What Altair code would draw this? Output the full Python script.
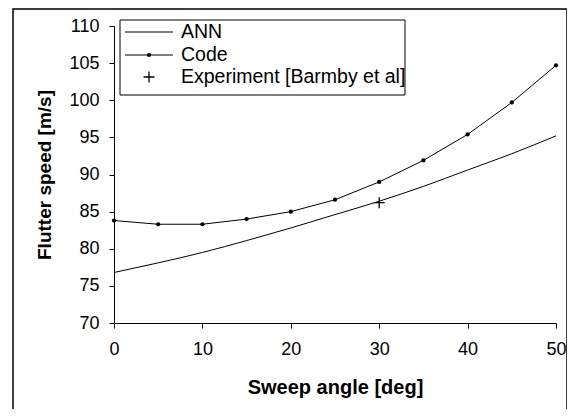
import altair as alt
import pandas as pd

# ---- data ----
code_x = [0, 5, 10, 15, 20, 25, 30, 35, 40, 45, 50]
code_y = [83.8, 83.3, 83.3, 84.0, 85.0, 86.6, 89.0, 91.9, 95.4, 99.7, 104.7]
ann_x = [0, 5, 10, 15, 20, 25, 30, 35, 40, 45, 50]
ann_y = [76.8, 78.1, 79.5, 81.1, 82.8, 84.6, 86.4, 88.4, 90.6, 92.8, 95.2]
exp_x = [30]
exp_y = [86.2]
legend_labels = ["ANN", "Code", "Experiment [Barmby et al]"]
x_ticks = [0, 10, 20, 30, 40, 50]
y_ticks = [70, 75, 80, 85, 90, 95, 100, 105, 110]

FONT = "Liberation Sans"
W, H = 442, 297

code_df = pd.DataFrame({"x": code_x, "y": code_y})
ann_df = pd.DataFrame({"x": ann_x, "y": ann_y})
exp_df = pd.DataFrame({"x": exp_x, "y": exp_y})

xs = alt.Scale(domain=[0, 50], nice=False)
ys = alt.Scale(domain=[70, 110], nice=False)

X = alt.X("x:Q", scale=xs, axis=alt.Axis(
    values=x_ticks, title="Sweep angle [deg]", grid=False, zindex=1,
    titleX=W / 2, titleY=64, titleBaseline="middle", titleAlign="center",
    titleFontSize=20, labelPadding=12, labelFlush=False))
Y = alt.Y("y:Q", scale=ys, axis=alt.Axis(
    values=y_ticks, title="Flutter speed [m/s]", grid=False, zindex=1,
    titleX=-70, titleY=H / 2, titleAngle=-90, titleBaseline="middle",
    titleAlign="center", titleFontSize=19, labelPadding=10, labelFlush=False))

ann = alt.Chart(ann_df).mark_line(color="black", strokeWidth=1, interpolate="monotone").encode(x=X, y=Y)
code = alt.Chart(code_df).mark_line(color="black", strokeWidth=1).encode(x=X, y=Y)
code_pts = alt.Chart(code_df).mark_point(filled=True, color="black", size=18, opacity=1, shape="circle").encode(x=X, y=Y)
PLUS = "M-1,0H1M0,-1V1"
exp = alt.Chart(exp_df).mark_point(shape=PLUS, filled=False, color="black", strokeWidth=1.3, size=120, opacity=1).encode(x=X, y=Y)

# ---- decoration: outer frame and legend ----
one = pd.DataFrame({"a": [0]})
frame = alt.Chart(one).mark_rect(fill="white", stroke="black", strokeWidth=1.5, clip=False).encode(
    x=alt.value(-101), x2=alt.value(453), y=alt.value(-17), y2=alt.value(420))

leg_box = alt.Chart(one).mark_rect(fill="white", stroke="black", strokeWidth=1).encode(
    x=alt.value(6), x2=alt.value(291), y=alt.value(-6), y2=alt.value(69))
rows_y = [6, 29, 51]
leg_line1 = alt.Chart(one).mark_rule(color="black", strokeWidth=1).encode(
    x=alt.value(11), x2=alt.value(59), y=alt.value(rows_y[0]))
leg_line2 = alt.Chart(one).mark_rule(color="black", strokeWidth=1).encode(
    x=alt.value(11), x2=alt.value(59), y=alt.value(rows_y[1]))
leg_dot = alt.Chart(one).mark_point(filled=True, color="black", size=18, opacity=1).encode(
    x=alt.value(35), y=alt.value(rows_y[1]))
leg_plus = alt.Chart(one).mark_point(shape=PLUS, filled=False, color="black", strokeWidth=1.3, size=120, opacity=1).encode(
    x=alt.value(35), y=alt.value(rows_y[2]))
leg_texts = [
    alt.Chart(pd.DataFrame({"t": [lab]})).mark_text(
        align="left", baseline="middle", font=FONT, fontSize=19.5, color="black").encode(
        text="t:N", x=alt.value(67), y=alt.value(ry))
    for lab, ry in zip(legend_labels, rows_y)
]

chart = alt.layer(
    frame, ann, code, code_pts, exp, leg_box, leg_line1, leg_line2, leg_dot, leg_plus, *leg_texts
).properties(
    width=W, height=H,
    autosize=alt.AutoSizeParams(type="none"),
    padding={"left": 106, "top": 18, "right": 11, "bottom": 86},
    background="white",
).configure_view(stroke=None).configure_axis(
    domainColor="black", domainWidth=1, tickColor="black", tickSize=5, tickWidth=1,
    labelFont=FONT, labelFontSize=18, labelColor="black",
    titleFont=FONT, titleFontWeight="bold", titleColor="black",
)

chart.save("out.html", embed_options={"renderer": "svg", "actions": False})
